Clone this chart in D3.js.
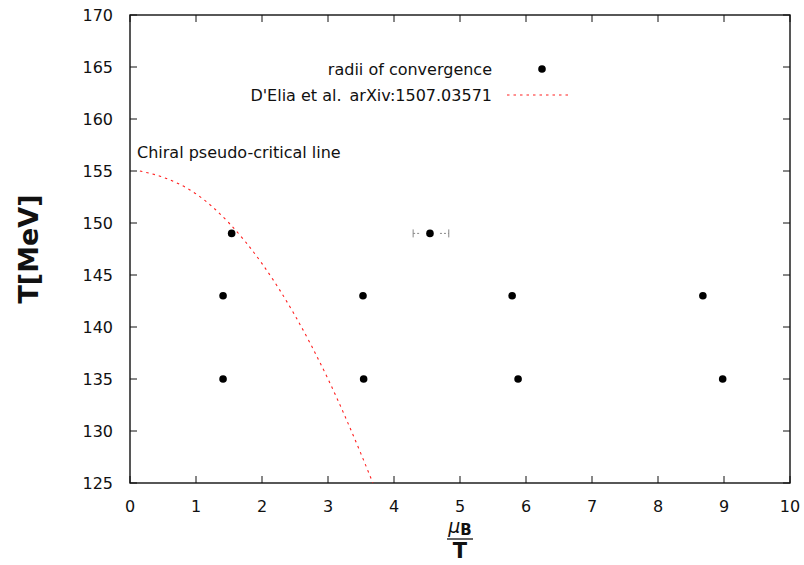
<!DOCTYPE html>
<html><head><meta charset="utf-8">
<script src="https://cdn.jsdelivr.net/npm/d3@7"></script>
<style>
body{margin:0;background:#fff;}
svg{display:block;font-family:"DejaVu Sans",sans-serif;}
</style></head>
<body><svg id="c" width="804" height="565"></svg>
<script>
// Data
const muT   = [1.41, 1.41, 1.54, 3.53, 3.54, 4.545, 5.79, 5.88, 8.68, 8.98];
const Tval  = [143, 135, 149, 143, 135, 149, 143, 135, 143, 135];
const errLow  = [null, null, null, null, null, 4.29, null, null, null, null];
const errHigh = [null, null, null, null, null, 4.83, null, null, null, null];
// D'Elia et al. chiral pseudo-critical line
const curveMu = [0.15, 0.5, 1.0, 1.5, 2.0, 2.5, 3.0, 3.5, 3.68];
const curveT  = [155.0, 154.4, 152.8, 150.0, 146.1, 141.1, 135.0, 127.8, 125.0];
const xTicks = [0,1,2,3,4,5,6,7,8,9,10];
const yTicks = [125,130,135,140,145,150,155,160,165,170];
const legendLabels = ["radii of convergence", "D'Elia et al.\u2002arXiv:1507.03571"];
const annotation = "Chiral pseudo-critical line";

const svg = d3.select("#c");
const L=130, R=790, T=15, B=483;
const x = d3.scaleLinear().domain([0,10]).range([L,R]);
const y = d3.scaleLinear().domain([125,170]).range([B,T]);
const fs = 16;

// ticks (inward, mirrored)
const tl = 7;
const gAx = svg.append("g").attr("stroke","#111").attr("stroke-width",1);
xTicks.forEach(v=>{
  gAx.append("line").attr("x1",x(v)).attr("x2",x(v)).attr("y1",B).attr("y2",B-tl);
  gAx.append("line").attr("x1",x(v)).attr("x2",x(v)).attr("y1",T).attr("y2",T+tl);
});
yTicks.forEach(v=>{
  gAx.append("line").attr("x1",L).attr("x2",L+tl).attr("y1",y(v)).attr("y2",y(v));
  gAx.append("line").attr("x1",R).attr("x2",R-tl).attr("y1",y(v)).attr("y2",y(v));
});
svg.append("rect").attr("x",L).attr("y",T).attr("width",R-L).attr("height",B-T)
  .attr("fill","none").attr("stroke","#111").attr("stroke-width",1.4);

// tick labels
svg.append("g").selectAll("text").data(xTicks).join("text")
  .attr("x",d=>x(d)).attr("y",B+23).attr("text-anchor","middle")
  .attr("dominant-baseline","central").attr("font-size",fs).attr("fill","#111").text(d=>d);
svg.append("g").selectAll("text").data(yTicks).join("text")
  .attr("x",L-17).attr("y",d=>y(d)).attr("text-anchor","end")
  .attr("dominant-baseline","central").attr("font-size",fs).attr("fill","#111").text(d=>d);

// y label
svg.append("text").attr("transform","translate(28,249) rotate(-90)")
  .attr("text-anchor","middle").attr("dominant-baseline","central")
  .attr("font-size",27).attr("font-weight","bold").attr("fill","#111").text("T[MeV]");

// x label fraction
const xl = svg.append("g").attr("fill","#111");
const cx = (L+R)/2;
const mt = xl.append("text").attr("x",cx).attr("y",533).attr("text-anchor","middle");
mt.append("tspan").attr("font-style","italic").attr("font-size",19).text("μ");
mt.append("tspan").attr("font-weight","bold").attr("font-size",15).attr("dy",2).text("B");
xl.append("line").attr("x1",cx-13).attr("x2",cx+13).attr("y1",539).attr("y2",539)
  .attr("stroke","#111").attr("stroke-width",1.3);
xl.append("text").attr("x",cx).attr("y",558).attr("text-anchor","middle")
  .attr("font-weight","bold").attr("font-size",21).text("T");

// curve
const line = d3.line().x(d=>x(d[0])).y(d=>y(d[1])).curve(d3.curveMonotoneX);
svg.append("path").datum(d3.zip(curveMu,curveT)).attr("d",line)
  .attr("fill","none").attr("stroke","#ff2020").attr("stroke-width",1.1)
  .attr("stroke-dasharray","2.5,4");

// error bars
const gE = svg.append("g").attr("stroke","#888").attr("stroke-width",1);
muT.forEach((m,i)=>{
  if(errLow[i]==null) return;
  const yy=y(Tval[i]), xc=x(m), gap=10;
  gE.append("line").attr("x1",x(errLow[i])).attr("x2",xc-gap).attr("y1",yy).attr("y2",yy).attr("stroke-dasharray","2,2");
  gE.append("line").attr("x1",xc+gap).attr("x2",x(errHigh[i])).attr("y1",yy).attr("y2",yy).attr("stroke-dasharray","2,2");
  gE.append("line").attr("x1",x(errLow[i])).attr("x2",x(errLow[i])).attr("y1",yy-4).attr("y2",yy+4);
  gE.append("line").attr("x1",x(errHigh[i])).attr("x2",x(errHigh[i])).attr("y1",yy-4).attr("y2",yy+4);
});

// points
svg.append("g").selectAll("circle").data(d3.zip(muT,Tval)).join("circle")
  .attr("cx",d=>x(d[0])).attr("cy",d=>y(d[1])).attr("r",3.8).attr("fill","#000");

// legend
svg.append("text").attr("x",492).attr("y",69).attr("text-anchor","end")
  .attr("dominant-baseline","central").attr("font-size",fs).attr("fill","#111").text(legendLabels[0]);
svg.append("circle").attr("cx",542).attr("cy",69).attr("r",3.8).attr("fill","#000");
svg.append("text").attr("x",492).attr("y",95).attr("text-anchor","end")
  .attr("dominant-baseline","central").attr("font-size",fs).attr("fill","#111").text(legendLabels[1]);
svg.append("line").attr("x1",507).attr("x2",571).attr("y1",95).attr("y2",95)
  .attr("stroke","#ff2020").attr("stroke-width",1.1).attr("stroke-dasharray","2.5,4");

// annotation
svg.append("text").attr("x",137).attr("y",152).attr("dominant-baseline","central")
  .attr("font-size",fs).attr("fill","#111").text(annotation);
</script></body></html>
